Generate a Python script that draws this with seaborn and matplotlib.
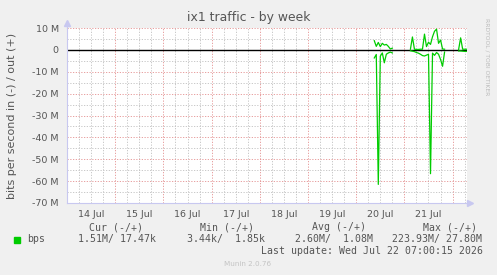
import numpy as np
import pandas as pd
import matplotlib
matplotlib.use("Agg")
import matplotlib.pyplot as plt
import seaborn as sns

# ---- data (Mbit/s), hourly samples starting 20 Jul 09:00 (day-of-July units) ----
start_day = 20.375
step_day = 1 / 24
seg1_offset = 0
out_seg1 = [4.2, 1.6, 3.4, 1.5, 3.0, 2.2, 2.5, 1.6, 0.4, 0.8]
in_seg1 = [3.7, 2.1, 61.5, 2.9, 1.4, 5.9, 2.0, 1.4, 1.0, 1.4]
seg2_offset = 18
out_seg2 = [0.3, 5.9, 0.3, 0.2, 0.2, 0.3, 0.3, 7.2, 1.5, 3.5, 2.5, 6.0, 8.5, 9.5, 3.0, 4.5, 0.4, 0.3]
in_seg2 = [0.4, 0.6, 0.8, 1.2, 1.5, 2.0, 2.6, 2.8, 2.4, 2.0, 56.6, 1.5, 2.5, 1.2, 2.0, 4.4, 7.5, 1.0]
seg3_offset = 42
out_seg3 = [0.2, 5.5, 0.3, 0.3, 0.3]
in_seg3 = [0.5, 0.5, 0.6, 0.7, 0.7]

y_ticks = [10, 0, -10, -20, -30, -40, -50, -60, -70]
y_tick_labels = ["10 M", "0", "-10 M", "-20 M", "-30 M", "-40 M", "-50 M", "-60 M", "-70 M"]
x_tick_days = [14.5, 15.5, 16.5, 17.5, 18.5, 19.5, 20.5, 21.5]
x_tick_labels = ["14 Jul", "15 Jul", "16 Jul", "17 Jul", "18 Jul", "19 Jul", "20 Jul", "21 Jul"]

legend_headers = ["Cur (-/+)", "Min (-/+)", "Avg (-/+)", "Max (-/+)"]
legend_values = ["1.51M/ 17.47k", "3.44k/  1.85k", "2.60M/  1.08M", "223.93M/ 27.80M"]
series_name = "bps"
last_update = "Last update: Wed Jul 22 07:00:15 2026"

# ---- build long table ----
rows = []
for seg, (off, outs, ins) in enumerate([(seg1_offset, out_seg1, in_seg1),
                                         (seg2_offset, out_seg2, in_seg2),
                                         (seg3_offset, out_seg3, in_seg3)]):
    for k, (o, i) in enumerate(zip(outs, ins)):
        t = start_day + (off + k) * step_day
        rows.append({"t": t, "v": o, "unit": f"out{seg}"})
        rows.append({"t": t, "v": -i, "unit": f"in{seg}"})
df = pd.DataFrame(rows)

W, H = 497, 275
fig = plt.figure(figsize=(W / 100, H / 100), dpi=100, facecolor="#F0F0F0")
L, R, T, B = 67, 467, 28, 203
ax = fig.add_axes([L / W, 1 - B / H, (R - L) / W, (B - T) / H])
ax.set_facecolor("white")
plt.rcParams["font.family"] = ["DejaVu Sans"]

ax.set_xlim(14.0, 14.0 + (R - L) / 48.2)
ax.set_ylim(-70, 10)

# grid
for d in np.arange(14.0, 22.3, 0.25):
    if abs(d - round(d)) < 1e-6:
        continue
    ax.axvline(d, color="#C0C0C0", lw=0.6, ls=(0, (1.5, 1.8)), zorder=1)
for yv in np.arange(-65, 10, 10):
    ax.axhline(yv, color="#C0C0C0", lw=0.6, ls=(0, (1.5, 1.8)), zorder=1)
for d in range(15, 23):
    ax.axvline(d, color="#E49090", lw=0.6, ls=(0, (1.5, 1.8)), zorder=1.5)
for yv in range(-70, 11, 10):
    ax.axhline(yv, color="#E49090", lw=0.6, ls=(0, (1.5, 1.8)), zorder=1.5)

sns.lineplot(data=df, x="t", y="v", units="unit", estimator=None, color="#00CC00",
             lw=0.9, ax=ax, legend=False, zorder=3)
ax.axhline(0, color="black", lw=1.0, zorder=2.5)

ax.set_yticks(y_ticks)
ax.set_yticklabels(y_tick_labels)
ax.set_xticks(x_tick_days)
ax.set_xticklabels(x_tick_labels)
ax.tick_params(axis="both", length=0, labelsize=6.8, colors="#555555", pad=6)
ax.tick_params(axis="x", pad=5)
ax.set_xlabel("")
ax.set_ylabel("")

for s in ["top", "right"]:
    ax.spines[s].set_visible(False)
for s in ["left", "bottom"]:
    ax.spines[s].set_color("#C8C8F0")
    ax.spines[s].set_linewidth(0.8)

# arrows on axes
ax.plot([0, 0], [1.0, 1.035], transform=ax.transAxes, color="#C8C8F0", lw=0.8, clip_on=False)
ax.plot([0], [1.03], transform=ax.transAxes, marker="^", ms=4, color="#C8C8F0", clip_on=False)
ax.plot([1.0, 1.009], [0, 0], transform=ax.transAxes, color="#C8C8F0", lw=0.8, clip_on=False)
ax.plot([1.008], [0], transform=ax.transAxes, marker=">", ms=4, color="#C8C8F0", clip_on=False)

def ftext(x, y, s, **kw):
    fig.text(x / W, 1 - y / H, s, **kw)

ftext(248.5, 18, "ix1 traffic - by week", ha="center", va="center", fontsize=8.9, color="#555555")
ftext(12, 115.5, "bits per second in (-) / out (+)", ha="center", va="center",
      rotation=90, fontsize=8.0, color="#555555")
ftext(487, 57, "RRDTOOL / TOBI OETIKER", ha="center", va="center", rotation=270,
      fontsize=4.3, color="#BBBBBB")

mono = dict(family="DejaVu Sans Mono", fontsize=7.1, color="#555555", va="center", ha="left")
for x0, s in zip([89, 200, 312, 423], legend_headers):
    ftext(x0, 227, s, **mono)
for x0, s in zip([78, 187, 295, 392], legend_values):
    ftext(x0, 239, s, **mono)
ftext(27, 239, series_name, **mono)
ftext(483, 251, last_update, **{**mono, "ha": "right"})
fig.patches.append(plt.Rectangle((14 / W, 1 - 242.5 / H), 6 / W, 6 / H,
                                 transform=fig.transFigure, color="#00CC00"))
ftext(248, 264, "Munin 2.0.76", ha="center", va="center", fontsize=5.2, color="#C4C4C4")

fig.savefig("out.png", dpi=100, facecolor=fig.get_facecolor())
